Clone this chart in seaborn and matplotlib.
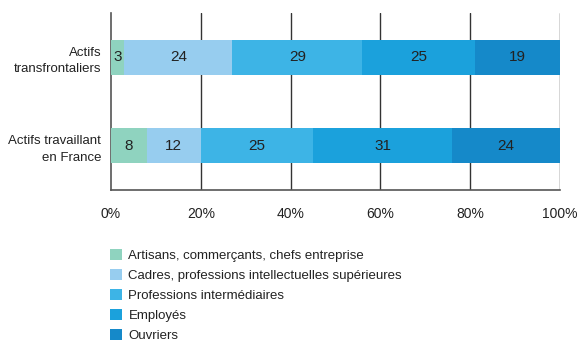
import matplotlib
matplotlib.use("Agg")
import matplotlib.pyplot as plt
import seaborn as sns
import numpy as np
import pandas as pd
from matplotlib.patches import Patch

categories = ["Actifs\ntransfrontaliers", "Actifs travaillant\nen France"]
series = ["Artisans, commerçants, chefs entreprise",
          "Cadres, professions intellectuelles supérieures",
          "Professions intermédiaires",
          "Employés",
          "Ouvriers"]
artisans = [3, 8]
cadres = [24, 12]
intermediaires = [29, 25]
employes = [25, 31]
ouvriers = [19, 24]
colors = ["#8fd3bf", "#97cdef", "#3db4e6", "#1ba1dc", "#1589c9"]
xticklabels = ["0%", "20%", "40%", "60%", "80%", "100%"]

sns.set_theme(style="white")
plt.rcParams['font.family'] = ['Liberation Sans', 'DejaVu Sans']

values = np.array([artisans, cadres, intermediaires, employes, ouvriers], dtype=float)
cum = np.cumsum(values, axis=0)

fig = plt.figure(figsize=(5.82, 3.43), dpi=100)
ax = fig.add_axes([111/582, 1 - 190/343, (560-111)/582, (190-13)/343])

for k in range(len(series) - 1, -1, -1):
    df = pd.DataFrame({"cat": categories, "val": cum[k]})
    sns.barplot(data=df, x="val", y="cat", orient="h", color=colors[k],
                width=0.4, linewidth=0, saturation=1, ax=ax, zorder=3)

for k in range(len(series)):
    for i in range(len(categories)):
        ax.text(cum[k, i] - values[k, i] / 2, i, f"{int(values[k, i])}",
                ha="center", va="center", fontsize=11, color="#222222", zorder=4)

ax.set_xlim(0, 100)
ax.set_ylim(1.5, -0.5)
ax.set_xticks([0, 20, 40, 60, 80, 100])
ax.set_xticklabels(xticklabels, fontsize=10, color="#222222")
ax.set_yticks([-0.5, 0.5, 1.5])
ax.set_yticklabels([])
ax.set_yticks([0, 1], minor=True)
ax.set_yticklabels(categories, minor=True, fontsize=9.5, color="#222222",
                   ha="right", multialignment="right", linespacing=1.5)
ax.tick_params(axis="y", which="minor", length=0, pad=7)
ax.tick_params(axis="y", which="major", length=7, width=1, color="#333333", direction="out")
ax.tick_params(axis="x", length=5, width=1, color="#333333", direction="out", pad=7)
ax.set_xlabel("")
ax.set_ylabel("")
ax.grid(False)
for x in [20, 40, 60, 80, 100]:
    ax.axvline(x, color="#333333", linewidth=1, zorder=1)
for s in ["top", "right"]:
    ax.spines[s].set_visible(False)
for s in ["left", "bottom"]:
    ax.spines[s].set_color("#555555")
    ax.spines[s].set_linewidth(1.2)

handles = [Patch(facecolor=c, edgecolor="none") for c in colors]
fig.legend(handles, series, loc="upper left", bbox_to_anchor=(110/582, 1 - 249/343),
           frameon=False, fontsize=9.5, handlelength=0.9, handleheight=0.9,
           handletextpad=0.5, labelspacing=0.52, borderaxespad=0, borderpad=0,
           labelcolor="#222222")

fig.savefig("out.png", dpi=100)
